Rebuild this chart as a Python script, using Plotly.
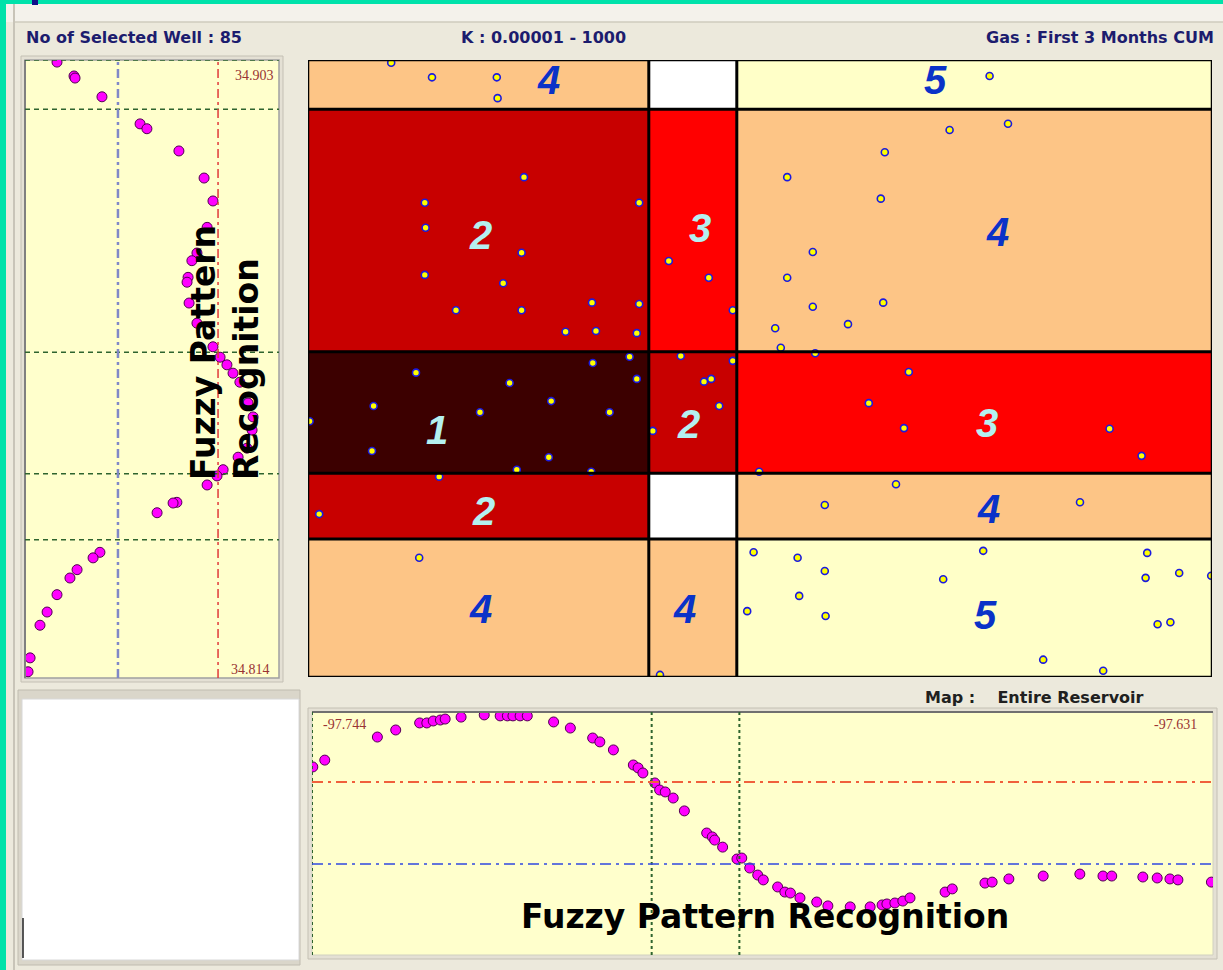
import plotly.graph_objects as go

W, H = 1223, 970

# ---------------- data ----------------
LON_RANGE = [-97.744, -97.631]
LAT_RANGE = [34.814, 34.903]
lon_edges = [-97.744, -97.7014, -97.6904, -97.631]
lat_edges = [34.814, 34.8339, 34.8434, 34.8609, 34.8959, 34.903]
# fuzzy class per cell, rows from south to north, columns west to east
cell_class = [
    [4, 4, 5],
    [2, None, 4],
    [1, 2, 3],
    [2, 3, 4],
    [4, None, 5],
]
class_colors = ['#3C0000', '#C80000', '#FF0000', '#FDC586', '#FFFFC8']

label_text = ['4', '5', '2', '3', '4', '1', '2', '3', '2', '4', '4', '4', '5']
label_lon = [-97.7140, -97.6656, -97.7224, -97.6950, -97.6578, -97.7279, -97.6965,
             -97.6591, -97.7221, -97.6589, -97.7224, -97.6969, -97.6593]
label_lat = [34.9001, 34.9001, 34.8778, 34.8788, 34.8782, 34.8496, 34.8505,
             34.8506, 34.8379, 34.8382, 34.8238, 34.8238, 34.8229]

well_lon = [-97.7336, -97.7285, -97.7204, -97.7203, -97.6588, -97.7170, -97.7294, -97.7026,
            -97.7293, -97.7173, -97.7294, -97.7196, -97.7255, -97.7173, -97.7085, -97.7026,
            -97.7118, -97.7080, -97.7029, -97.6989, -97.6939, -97.6909, -97.7084, -97.7038,
            -97.6974, -97.6909, -97.6565, -97.6638, -97.6719, -97.6841, -97.6724, -97.6809,
            -97.6841, -97.6809, -97.6721, -97.6765, -97.6856, -97.6849, -97.6806, -97.7438,
            -97.7305, -97.7358, -97.7360, -97.7225, -97.7188, -97.7136, -97.7139, -97.7179,
            -97.7276, -97.7086, -97.7063, -97.7029, -97.6945, -97.6936, -97.6926, -97.7009,
            -97.7426, -97.7301, -97.6883, -97.6891, -97.7000, -97.6689, -97.6739, -97.6695,
            -97.6438, -97.6398, -97.6876, -97.6705, -97.6794, -97.6475, -97.6828, -97.6794,
            -97.6596, -97.6646, -97.6391, -97.6393, -97.6351, -97.6311, -97.6826, -97.6793,
            -97.6378, -97.6362, -97.6521, -97.6446]
well_lat = [34.9026, 34.9005, 34.9005, 34.8975, 34.9007, 34.8861, 34.8824, 34.8824,
            34.8788, 34.8752, 34.8720, 34.8708, 34.8669, 34.8669, 34.8680, 34.8678,
            34.8638, 34.8639, 34.8636, 34.8740, 34.8716, 34.8669, 34.8593, 34.8602,
            34.8603, 34.8596, 34.8938, 34.8929, 34.8897, 34.8861, 34.8830, 34.8753,
            34.8716, 34.8674, 34.8680, 34.8649, 34.8643, 34.8615, 34.8607, 34.8509,
            34.8579, 34.8531, 34.8466, 34.8522, 34.8564, 34.8538, 34.8457, 34.8439,
            34.8429, 34.8436, 34.8522, 34.8570, 34.8566, 34.8570, 34.8531, 34.8495,
            34.8375, 34.8312, 34.8320, 34.8235, 34.8143, 34.8580, 34.8535, 34.8499,
            34.8498, 34.8459, 34.8436, 34.8418, 34.8388, 34.8392, 34.8312, 34.8293,
            34.8322, 34.8281, 34.8319, 34.8283, 34.8290, 34.8286, 34.8257, 34.8228,
            34.8216, 34.8219, 34.8165, 34.8149]

# fuzzy curve along latitude (left panel)
left_lat = [34.9027, 34.9007, 34.9004, 34.8977, 34.8938, 34.8931, 34.8899, 34.8860, 34.8827,
            34.8789, 34.8752, 34.8741, 34.8717, 34.8710, 34.8680, 34.8651, 34.8617, 34.8602,
            34.8591, 34.8579, 34.8566, 34.8536, 34.8516, 34.8497, 34.8471, 34.8458, 34.8440,
            34.8431, 34.8418, 34.8393, 34.8392, 34.8378, 34.8321, 34.8313, 34.8296, 34.8284,
            34.8260, 34.8235, 34.8216, 34.8169, 34.8149]
left_val = [0.126, 0.193, 0.197, 0.303, 0.453, 0.480, 0.606, 0.705, 0.740, 0.717, 0.677,
            0.657, 0.642, 0.638, 0.646, 0.677, 0.740, 0.768, 0.795, 0.819, 0.846, 0.878,
            0.898, 0.894, 0.874, 0.839, 0.780, 0.756, 0.717, 0.598, 0.583, 0.520, 0.295,
            0.268, 0.205, 0.177, 0.126, 0.087, 0.059, 0.020, 0.012]
left_thresholds = [0.366, 0.760]

# fuzzy curve along longitude (bottom panel)
bottom_lon = [-97.7439, -97.7424, -97.7358, -97.7335, -97.7305, -97.7296, -97.7288, -97.7279,
              -97.7273, -97.7253, -97.7224, -97.7204, -97.7195, -97.7188, -97.7179, -97.7170,
              -97.7137, -97.7116, -97.7088, -97.7079, -97.7062, -97.7037, -97.7031, -97.7025,
              -97.7010, -97.7004, -97.6997, -97.6987, -97.6973, -97.6945, -97.6938, -97.6935,
              -97.6925, -97.6907, -97.6901, -97.6891, -97.6881, -97.6874, -97.6856, -97.6847,
              -97.6840, -97.6828, -97.6807, -97.6793, -97.6765, -97.6740, -97.6725, -97.6719,
              -97.6709, -97.6699, -97.6690, -97.6646, -97.6637, -97.6596, -97.6587, -97.6566,
              -97.6523, -97.6477, -97.6448, -97.6437, -97.6398, -97.6380, -97.6364, -97.6354,
              -97.6312]
bottom_val = [0.774, 0.802, 0.897, 0.926, 0.955, 0.955, 0.963, 0.967, 0.971, 0.979, 0.988,
              0.984, 0.984, 0.984, 0.984, 0.984, 0.959, 0.934, 0.893, 0.877, 0.844, 0.782,
              0.770, 0.749, 0.708, 0.679, 0.671, 0.646, 0.593, 0.502, 0.486, 0.473, 0.444,
              0.395, 0.399, 0.358, 0.329, 0.309, 0.280, 0.259, 0.255, 0.235, 0.218, 0.202,
              0.198, 0.198, 0.206, 0.210, 0.214, 0.222, 0.235, 0.259, 0.272, 0.296, 0.300,
              0.313, 0.325, 0.333, 0.325, 0.325, 0.321, 0.317, 0.313, 0.309, 0.300]
bottom_thresholds = [0.374, 0.712]

n_selected_wells = 85
k_range_text = "K : 0.00001 - 1000"
output_text = "Gas : First 3 Months CUM"
map_text = "Map :\u00a0\u00a0\u00a0 Entire Reservoir"
watermark = "Fuzzy Pattern Recognition"

# ---------------- layout helpers ----------------
def fx(p):
    return p / W

def fy(p):
    return 1 - p / H

BEIGE = '#ECE9DC'
PANEL = '#FFFFCC'
NAVY = '#1C1C6E'

fig = go.Figure()

# class colour scale (discrete)
cs = []
n = len(class_colors)
for i, c in enumerate(class_colors):
    cs.append([i / n, c])
    cs.append([(i + 1) / n, c])

fig.add_trace(go.Heatmap(
    x=lon_edges, y=lat_edges, z=cell_class,
    colorscale=cs, zmin=0.5, zmax=n + 0.5, showscale=False,
    hoverinfo='skip', xaxis='x', yaxis='y'))

fig.add_trace(go.Scatter(
    x=well_lon, y=well_lat, mode='markers', xaxis='x', yaxis='y',
    marker=dict(size=7, color='#FFFF00', line=dict(color='#1A1AE0', width=1.6)),
    hoverinfo='skip', showlegend=False))

fig.add_trace(go.Scatter(
    x=left_val, y=left_lat, mode='markers', xaxis='x2', yaxis='y2',
    marker=dict(size=10, color='#FF00FF', line=dict(color='#500050', width=1)),
    hoverinfo='skip', showlegend=False))

fig.add_trace(go.Scatter(
    x=bottom_lon, y=bottom_val, mode='markers', xaxis='x3', yaxis='y3',
    marker=dict(size=10, color='#FF00FF', line=dict(color='#500050', width=1)),
    hoverinfo='skip', showlegend=False))

ax_common = dict(visible=False, showgrid=False, zeroline=False, fixedrange=True)

shapes = []
# page decoration
shapes += [
    dict(type='rect', xref='paper', yref='paper', x0=fx(0), x1=fx(W), y0=fy(22), y1=fy(4),
         fillcolor='#F4F2EB', line_width=0, layer='below'),
    dict(type='line', xref='paper', yref='paper', x0=fx(14), x1=fx(W), y0=fy(22), y1=fy(22),
         line=dict(color='#CFCBBE', width=1.5), layer='below'),
    dict(type='rect', xref='paper', yref='paper', x0=0, x1=fx(6), y0=0, y1=1,
         fillcolor='#00E2AA', line_width=0, layer='below'),
    dict(type='rect', xref='paper', yref='paper', x0=0, x1=1, y0=fy(4), y1=1,
         fillcolor='#00E2AA', line_width=0, layer='below'),
    dict(type='line', xref='paper', yref='paper', x0=fx(14), x1=fx(14), y0=0, y1=fy(4),
         line=dict(color='#C8C4B8', width=2), layer='below'),
    dict(type='rect', xref='paper', yref='paper', x0=fx(32), x1=fx(38), y0=fy(5), y1=1,
         fillcolor='#10108A', line_width=0),
    # bottom-left empty white box
    dict(type='rect', xref='paper', yref='paper', x0=fx(18), x1=fx(300), y0=fy(965), y1=fy(690),
         fillcolor='#DAD6CA', line=dict(color='#C0BCB0', width=1), layer='below'),
    dict(type='rect', xref='paper', yref='paper', x0=fx(22), x1=fx(299), y0=fy(960), y1=fy(699),
         fillcolor='#FFFFFF', line=dict(color='#D8D8D8', width=1), layer='below'),
    dict(type='line', xref='paper', yref='paper', x0=fx(23), x1=fx(23), y0=fy(958), y1=fy(918),
         line=dict(color='#202020', width=1.5)),
    # side panel frames and backgrounds
    dict(type='rect', xref='paper', yref='paper', x0=fx(21), x1=fx(283), y0=fy(682), y1=fy(56),
         fillcolor='#E4E0D4', line=dict(color='#C4C0B4', width=1), layer='below'),
    dict(type='rect', xref='x2 domain', yref='y2 domain', x0=0, x1=1, y0=0, y1=1,
         fillcolor=PANEL, line=dict(color='#A0A0A0', width=1.5), layer='below'),
    dict(type='rect', xref='paper', yref='paper', x0=fx(308), x1=fx(1217), y0=fy(959), y1=fy(708),
         fillcolor='#E4E0D4', line=dict(color='#C4C0B4', width=1), layer='below'),
    dict(type='rect', xref='x3 domain', yref='y3 domain', x0=0, x1=1, y0=0, y1=1,
         fillcolor=PANEL, line=dict(color='#D0D0C0', width=1), layer='below'),
    dict(type='line', xref='x3 domain', yref='y3 domain', x0=0, x1=1, y0=1, y1=1,
         line=dict(color='#707070', width=2)),
    dict(type='line', xref='x2 domain', yref='y2 domain', x0=0, x1=0, y0=0, y1=1,
         line=dict(color='#808080', width=2)),
]

# class boundaries on map
for i, lo in enumerate(lon_edges):
    outer = i in (0, len(lon_edges) - 1)
    shapes.append(dict(type='line', xref='x', yref='y domain', x0=lo, x1=lo, y0=0, y1=1,
                       line=dict(color='#000000', width=2.5 if outer else 3)))
for i, la in enumerate(lat_edges):
    outer = i in (0, len(lat_edges) - 1)
    shapes.append(dict(type='line', xref='x domain', yref='y', x0=0, x1=1, y0=la, y1=la,
                       line=dict(color='#000000', width=2.5 if outer else 3)))

# left panel: latitude class edges + value thresholds
for la in lat_edges[1:]:
    shapes.append(dict(type='line', xref='x2 domain', yref='y2', x0=0, x1=1, y0=la, y1=la,
                       line=dict(color='#2E642E', width=1.5, dash='5px,4px')))
shapes.append(dict(type='line', xref='x2', yref='y2 domain', x0=left_thresholds[0],
                   x1=left_thresholds[0], y0=0, y1=1,
                   line=dict(color='#8088C8', width=2.5, dash='9px,4px,3px,4px')))
shapes.append(dict(type='line', xref='x2', yref='y2 domain', x0=left_thresholds[1],
                   x1=left_thresholds[1], y0=0, y1=1,
                   line=dict(color='#E03A3A', width=1.5, dash='9px,4px,3px,4px')))

# bottom panel: longitude class edges + value thresholds
for lo in lon_edges[:-1]:
    shapes.append(dict(type='line', xref='x3', yref='y3 domain', x0=lo, x1=lo, y0=0, y1=1,
                       line=dict(color='#2E642E', width=2, dash='3px,3px')))
shapes.append(dict(type='line', xref='x3 domain', yref='y3', x0=0, x1=1,
                   y0=bottom_thresholds[1], y1=bottom_thresholds[1],
                   line=dict(color='#F0603C', width=2, dash='11px,5px,3px,5px')))
shapes.append(dict(type='line', xref='x3 domain', yref='y3', x0=0, x1=1,
                   y0=bottom_thresholds[0], y1=bottom_thresholds[0],
                   line=dict(color='#3048E0', width=1.5, dash='11px,5px,3px,5px')))

annotations = []
# cell class labels
for t, lo, la in zip(label_text, label_lon, label_lat):
    col = '#B4F0F0' if int(t) <= 3 else '#0A32C8'
    annotations.append(dict(x=lo, y=la, xref='x', yref='y', text=f'<b><i>{t}</i></b>',
                            showarrow=False, xanchor='center', yanchor='middle',
                            font=dict(family='Liberation Sans, Arial', size=40, color=col)))

hdr_font = dict(family='DejaVu Sans', size=16, color=NAVY)
annotations += [
    dict(x=fx(24), y=fy(38), xref='paper', yref='paper', xanchor='left', yanchor='middle',
         text=f'<b>No of Selected Well : {n_selected_wells}</b>', showarrow=False, font=hdr_font),
    dict(x=fx(543), y=fy(38), xref='paper', yref='paper', xanchor='center', yanchor='middle',
         text=f'<b>{k_range_text}</b>', showarrow=False, font=hdr_font),
    dict(x=fx(1216), y=fy(38), xref='paper', yref='paper', xanchor='right', yanchor='middle',
         text=f'<b>{output_text}</b>', showarrow=False, font=hdr_font),
    dict(x=fx(1146), y=fy(697), xref='paper', yref='paper', xanchor='right', yanchor='middle',
         text=f'<b>{map_text}</b>', showarrow=False,
         font=dict(family='DejaVu Sans', size=16, color='#202020')),
]

tick_font = dict(family='Liberation Serif', size=14, color='#993333')
annotations += [
    dict(x=fx(276), y=fy(76), xref='paper', yref='paper', xanchor='right', yanchor='middle',
         text=f'{LAT_RANGE[1]:.3f}', showarrow=False, font=tick_font),
    dict(x=fx(272), y=fy(669), xref='paper', yref='paper', xanchor='right', yanchor='middle',
         text=f'{LAT_RANGE[0]:.3f}', showarrow=False, font=tick_font),
    dict(x=fx(321), y=fy(724), xref='paper', yref='paper', xanchor='left', yanchor='middle',
         text=f'{LON_RANGE[0]:.3f}', showarrow=False, font=tick_font),
    dict(x=fx(1199), y=fy(724), xref='paper', yref='paper', xanchor='right', yanchor='middle',
         text=f'{LON_RANGE[1]:.3f}', showarrow=False, font=tick_font),
]

wm_font = dict(family='DejaVu Sans', size=33, color='#000000')
words = watermark.split(' ')
annotations += [
    dict(x=fx(765), y=fy(916), xref='paper', yref='paper', xanchor='center', yanchor='middle',
         text=f'<b>{watermark}</b>', showarrow=False, font=wm_font),
    dict(x=fx(225), y=fy(353), xref='paper', yref='paper', xanchor='center', yanchor='middle',
         text=f"<b>{' '.join(words[:2])}<br>{words[2]}</b>", showarrow=False, textangle=-90,
         align='left', font=wm_font),
]

fig.update_layout(
    width=W, height=H, margin=dict(l=0, r=0, t=0, b=0),
    paper_bgcolor=BEIGE, plot_bgcolor='#FFFFFF', showlegend=False,
    xaxis=dict(domain=[fx(308), fx(1212)], range=LON_RANGE, **ax_common),
    yaxis=dict(domain=[fy(677), fy(60)], range=LAT_RANGE, **ax_common),
    xaxis2=dict(domain=[fx(25), fx(279)], range=[0, 1], **ax_common),
    yaxis2=dict(domain=[fy(678), fy(60)], range=LAT_RANGE, **ax_common),
    xaxis3=dict(domain=[fx(312), fx(1213)], range=LON_RANGE, **ax_common),
    yaxis3=dict(domain=[fy(955), fy(712)], range=[0, 1], **ax_common),
    shapes=shapes, annotations=annotations,
)

fig.write_html("out.html", config={'displayModeBar': False, 'staticPlot': True},
               post_script="document.body.style.margin='0';document.body.style.overflow='hidden';")
